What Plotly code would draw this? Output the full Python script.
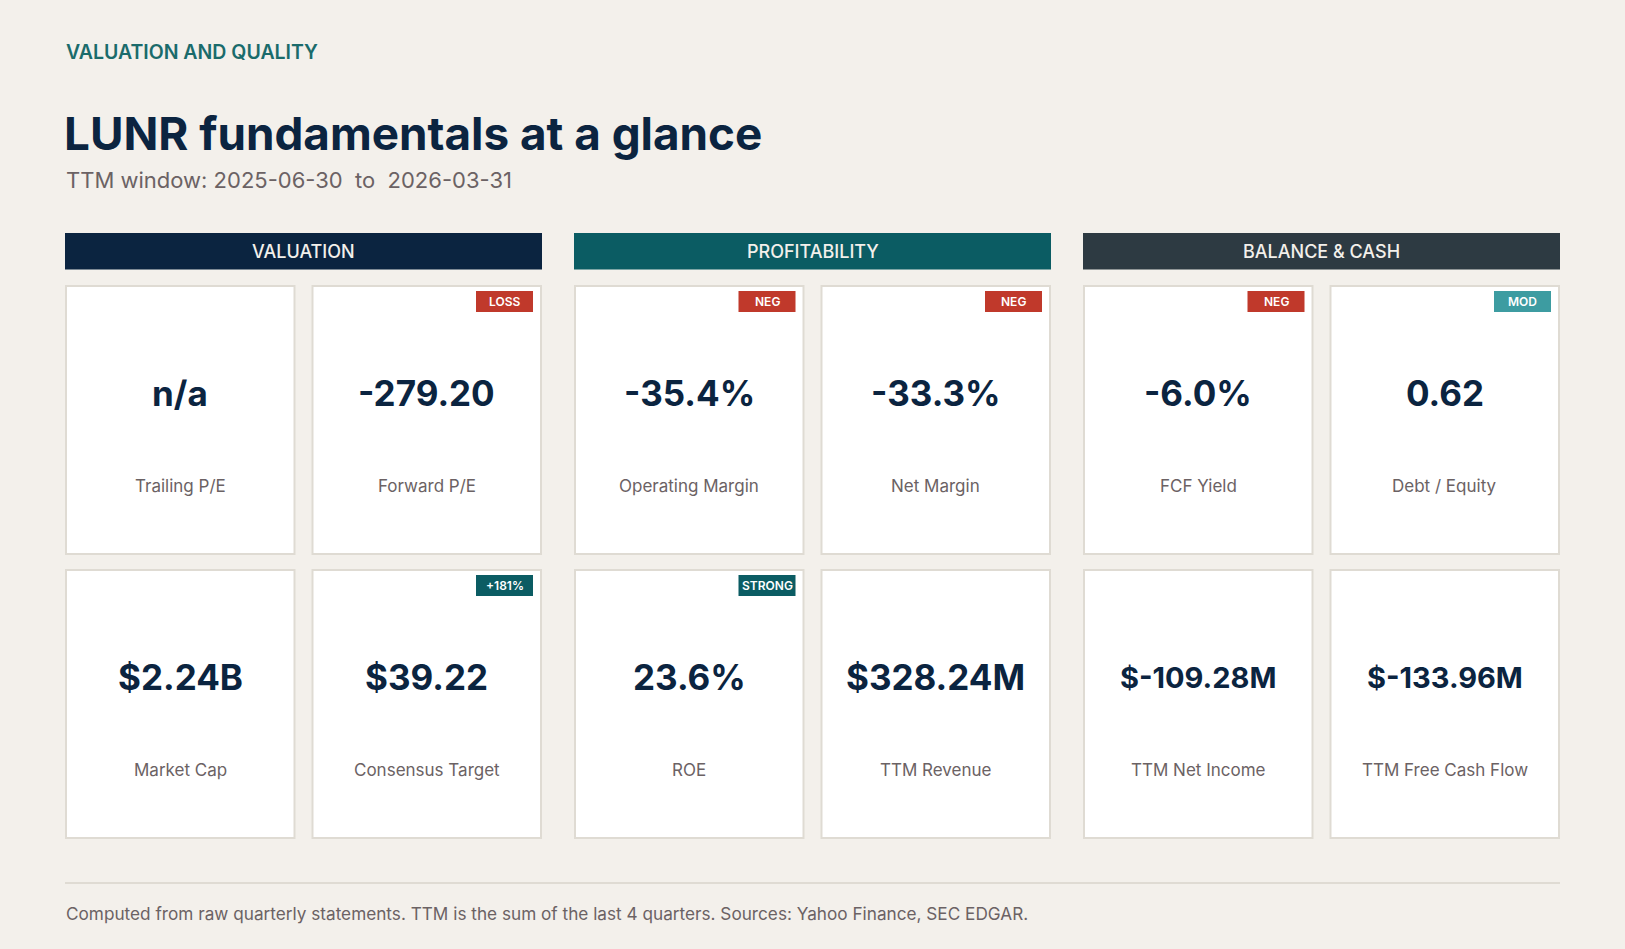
import plotly.graph_objects as go

# --- data -------------------------------------------------------------
kicker = "VALUATION AND QUALITY"
title = "LUNR fundamentals at a glance"
subtitle = "TTM window: 2025-06-30  to  2026-03-31"
footer = ("Computed from raw quarterly statements. TTM is the sum of the last 4 quarters. "
          "Sources: Yahoo Finance, SEC EDGAR.")

sections = ["VALUATION", "PROFITABILITY", "BALANCE & CASH"]
section_colors = ["#0b2440", "#0b5c63", "#2d3a42"]

# two rows x six cards, left to right
row1_labels = ["Trailing P/E", "Forward P/E", "Operating Margin", "Net Margin", "FCF Yield", "Debt / Equity"]
row1_values = ["n/a", "-279.20", "-35.4%", "-33.3%", "-6.0%", "0.62"]
row1_badges = [None, "LOSS", "NEG", "NEG", "NEG", "MOD"]

row2_labels = ["Market Cap", "Consensus Target", "ROE", "TTM Revenue", "TTM Net Income", "TTM Free Cash Flow"]
row2_values = ["$2.24B", "$39.22", "23.6%", "$328.24M", "$-109.28M", "$-133.96M"]
row2_badges = [None, "+181%", "STRONG", None, None, None]

badge_colors = {"LOSS": "#c0392b", "NEG": "#c0392b", "MOD": "#3d9ca1",
                "+181%": "#0b5c63", "STRONG": "#0b5c63"}

# --- layout constants -------------------------------------------------
W, H = 1625, 949
BG = "#f3f0eb"
NAVY = "#0b2440"
GREY = "#6b6264"
BORDER = "#dfdbd3"
FONT = "Inter"

left, right = 65, 1560
group_w, group_gap = 477, 32
card_gap = 16
card_w = (group_w - card_gap) / 2
card_h = 270
row_tops = [285, 569]

fig = go.Figure()
shapes = []
annotations = []


def text(x, y, s, size, color, weight=400, xanchor="center"):
    annotations.append(dict(
        x=x, y=y, xref="x", yref="y", text=s, showarrow=False,
        xanchor=xanchor, yanchor="middle",
        font=dict(family=FONT, size=size, color=color, weight=weight),
    ))


# header texts
text(left - 1, 52, kicker, 19.5, "#1a6b6b", 600, "left")
text(left - 3, 133, title, 45.8, NAVY, 700, "left")
text(left - 1, 180, subtitle, 22, GREY, 400, "left")

# section headers
for g, (name, col) in enumerate(zip(sections, section_colors)):
    gx = left + g * (group_w + group_gap)
    shapes.append(dict(type="rect", xref="x", yref="y", x0=gx, x1=gx + group_w,
                       y0=233, y1=269.5, fillcolor=col, line=dict(width=0), layer="below"))
    text(gx + group_w / 2, 251.5, name, 18, "#f3f0eb", 500)

# cards
rows = [(row1_labels, row1_values, row1_badges), (row2_labels, row2_values, row2_badges)]
for r, (labels, values, badges) in enumerate(rows):
    top = row_tops[r]
    for i, (lab, val, badge) in enumerate(zip(labels, values, badges)):
        g, k = divmod(i, 2)
        x0 = left + g * (group_w + group_gap) + k * (card_w + card_gap)
        x1 = x0 + card_w
        shapes.append(dict(type="rect", xref="x", yref="y", x0=x0 + 1, x1=x1 - 1,
                           y0=top + 1, y1=top + card_h - 1, fillcolor="white",
                           line=dict(color=BORDER, width=2), layer="below"))
        cx = (x0 + x1) / 2
        # long figures get a smaller font so they fit the card
        vsize = 35 if len(val) <= 8 else 29
        text(cx, top + 108, val, vsize, NAVY, 700)
        text(cx, top + 200.5, lab, 17, GREY, 400)
        if badge:
            bx1 = x1 - 9
            bx0 = bx1 - 57
            shapes.append(dict(type="rect", xref="x", yref="y", x0=bx0, x1=bx1,
                               y0=top + 6, y1=top + 27, fillcolor=badge_colors[badge],
                               line=dict(width=0), layer="below"))
            text((bx0 + bx1) / 2, top + 16.5, badge, 12, "white", 600)

# footer
shapes.append(dict(type="line", xref="x", yref="y", x0=left, x1=right, y0=883, y1=883,
                   line=dict(color=BORDER, width=2)))
text(left - 1, 913, footer, 17.2, GREY, 400, "left")

fig.update_layout(
    width=W, height=H,
    margin=dict(l=0, r=0, t=0, b=0),
    paper_bgcolor=BG, plot_bgcolor=BG,
    showlegend=False,
    shapes=shapes, annotations=annotations,
    xaxis=dict(range=[0, W], visible=False, fixedrange=True),
    yaxis=dict(range=[H, 0], visible=False, fixedrange=True),
)

fig.write_html(
    "out.html",
    config={"displayModeBar": False},
    post_script="document.body.style.margin='0';document.body.style.background='%s';" % BG,
)
